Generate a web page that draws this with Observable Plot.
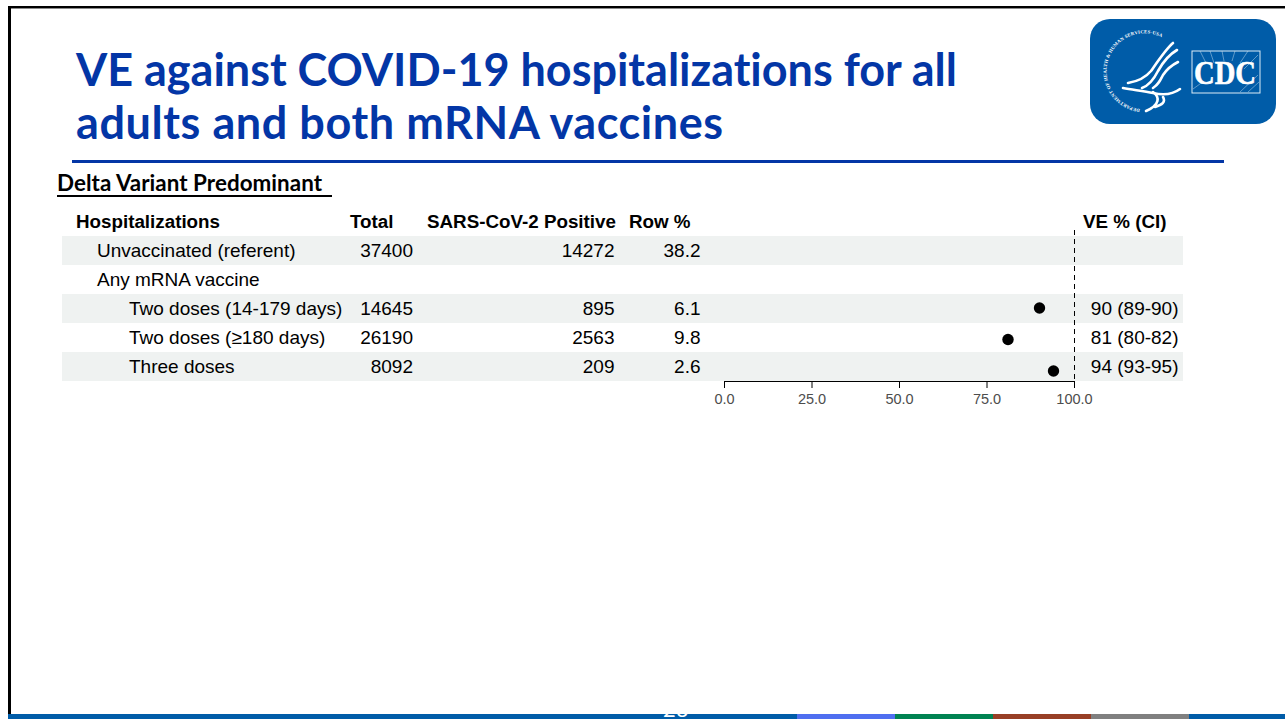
<!DOCTYPE html>
<html><head><meta charset="utf-8">
<script src="https://cdn.jsdelivr.net/npm/d3@7"></script>
<script src="https://cdn.jsdelivr.net/npm/@observablehq/plot@0.6"></script>
<style>
html,body{margin:0;padding:0;background:#fff;overflow:hidden}
#page{position:relative;width:1285px;height:719px;overflow:hidden;background:#fff}
#page>*{position:absolute}
#chart{left:0;top:0}
#frameTop{left:8px;top:6px;right:0;height:2px;background:#000;border-bottom:1px solid #8a8a8a}
#frameLeft{left:8px;top:6px;width:3px;bottom:0;background:#000}
#title{left:76px;top:42.5px;margin:0;font:700 45px/53px Lato,sans-serif;font-variant-ligatures:none;color:#0336a6;white-space:nowrap}
#title span{display:block}
#rule{left:72px;top:160px;width:1152px;height:3px;background:#0336a6}
#sub{left:57px;top:171px;font:700 22.4px/24px Lato,sans-serif;font-variant-ligatures:none;color:#000;white-space:pre;border-bottom:2px solid #000;letter-spacing:.04px;padding-right:0}
#logo{left:1090px;top:19px}
#bar{left:8px;right:0;top:714px;height:5px;background:#005ca8}
#bar i{display:block;height:5px;position:absolute;top:0}
#pn{left:663px;top:698px;font:400 22px/22px Lato,sans-serif;color:#fff}
</style></head><body>
<div id="page">
<div id="chart"></div>
<div id="frameTop"></div><div id="frameLeft"></div>
<h1 id="title"><span style="letter-spacing:-.02px">VE against COVID-19 hospitalizations for all</span><span style="letter-spacing:.57px">adults and both mRNA vaccines</span></h1>
<div id="rule"></div>
<div id="sub">Delta Variant Predominant <span style="letter-spacing:-1px"> </span></div>
<svg id="logo" width="186" height="105" viewBox="0 0 186 105">
<rect width="186" height="105" rx="20" fill="#005ca8"/>
<defs><path id="arc" d="M50 90 A38 38 0 1 1 80 24"/></defs>
<text font-family="Liberation Serif" font-size="4.8" font-weight="700" fill="#fff" letter-spacing=".2"><textPath href="#arc">DEPARTMENT OF HEALTH &amp; HUMAN SERVICES-USA</textPath></text>
<g fill="none" stroke="#fff" stroke-linecap="round" stroke-width="2.6">
<path d="M38 64 C50 62 56 58 61 52 C68 42 76 30 83 24"/>
<path d="M52 69 C60 66 64 60 68 52 C73 43 80 35 87 31"/>
<path d="M63 69 C68 66 70 62 73 56 C77 50 82 46 88 43"/>
<path d="M33 69 C44 71 54 72 63 74 C72 76 82 76 90 70"/>
<path d="M63 73 C70 78 70 86 56 92"/>
<path d="M73 78 C76 83 72 86 65 88"/>
</g>
<g stroke="#9ec4e0" stroke-width=".6">
<path d="M120 32 L124 44 M132 32 L134 42 M145 32 L142 42 M158 32 L150 44 M168 36 L154 50 M103 70 L114 62 M150 73 L168 56 M158 73 L169 63 M110 32 L116 44"/>
</g>
<rect x="102" y="32" width="68" height="42" fill="none" stroke="#dcecf6" stroke-width="1"/>
<text x="135" y="65" text-anchor="middle" font-family="Liberation Serif" font-weight="700" font-size="34" textLength="62" lengthAdjust="spacingAndGlyphs" fill="#fff" stroke="#fff" stroke-width=".6">CDC</text>
</svg>
<div id="bar">
<i style="left:789px;width:98px;background:#4f6ff0"></i>
<i style="left:887px;width:98px;background:#008352"></i>
<i style="left:985px;width:98px;background:#983f26"></i>
<i style="left:1083px;width:98px;background:#808080"></i>
</div>
<div id="pn">26</div>
</div>
<script>
const headers = {label:"Hospitalizations", total:"Total", positive:"SARS-CoV-2 Positive", rowPct:"Row %", ve:"VE % (CI)"};
const labels = ["Unvaccinated (referent)","Any mRNA vaccine","Two doses (14-179 days)","Two doses (≥180 days)","Three doses"];
const indent = [1,1,2,2,2];
const totals = ["37400","","14645","26190","8092"];
const positives = ["14272","","895","2563","209"];
const rowPcts = ["38.2","","6.1","9.8","2.6"];
const veValues = [null,null,90,81,94];
const veText = ["","","90 (89-90)","81 (80-82)","94 (93-95)"];
const xTicks = [0,25,50,75,100];

const rows = labels.map((label,i)=>({label,indent:indent[i],total:totals[i],positive:positives[i],rowPct:rowPcts[i],ve:veValues[i],veText:veText[i]}));
const yDomain = [headers.label,...labels];
const shaded = rows.filter((d,i)=>i%2===0);
const hdr = [headers];
const dot = (i,dy) => Plot.dot([rows[i]],{x:"ve",y:"label",r:5.7,fill:"#000",dy});
const head = (text,dx) => Plot.text(hdr,{text,y:"label",frameAnchor:"left",textAnchor:"start",dx,fontWeight:700,fontSize:18.8});
const col = (text,dx) => Plot.text(rows,{text,y:"label",frameAnchor:"left",textAnchor:"end",dx});

document.getElementById("chart").append(Plot.plot({
  width:1285,height:719,
  marginLeft:62,marginRight:102,marginTop:230,marginBottom:338,
  style:{fontFamily:"'Liberation Sans',Arial,sans-serif",fontSize:"19px",color:"#000",background:"transparent"},
  x:{domain:[0,100],range:[724,1074]},
  y:{type:"band",domain:yDomain,range:[207,381],padding:0,axis:null},
  marks:[
    Plot.cell(shaded,{y:"label",fill:"#eff2f1",inset:0}),
    head("label",13.5),head("total",287.5),head("positive",364.5),head("rowPct",566.5),head("ve",1020.5),
    Plot.text(rows.filter(d=>d.indent===1),{text:"label",y:"label",frameAnchor:"left",textAnchor:"start",dx:34.5}),
    Plot.text(rows.filter(d=>d.indent===2),{text:"label",y:"label",frameAnchor:"left",textAnchor:"start",dx:66.5}),
    col("total",350.5),col("positive",552),col("rowPct",638),
    Plot.text(rows,{text:"veText",y:"label",frameAnchor:"right",textAnchor:"end",dx:-5}),
    Plot.ruleX([100],{stroke:"#000",strokeDasharray:"5,4",strokeWidth:1}),
    Plot.ruleY([labels[4]],{x1:xTicks[0],x2:xTicks[4],dy:14.5,stroke:"#000",strokeWidth:1.2}),
    Plot.axisX({ticks:xTicks,tickSize:7,tickPadding:5,tickFormat:d=>d.toFixed(1),label:null,fontSize:14.5,stroke:"#000",color:"#4d4d4d",fill:"#4d4d4d"}),
    dot(2,-1),dot(3,1.5),dot(4,4)
  ]
}));
</script>
</body></html>
